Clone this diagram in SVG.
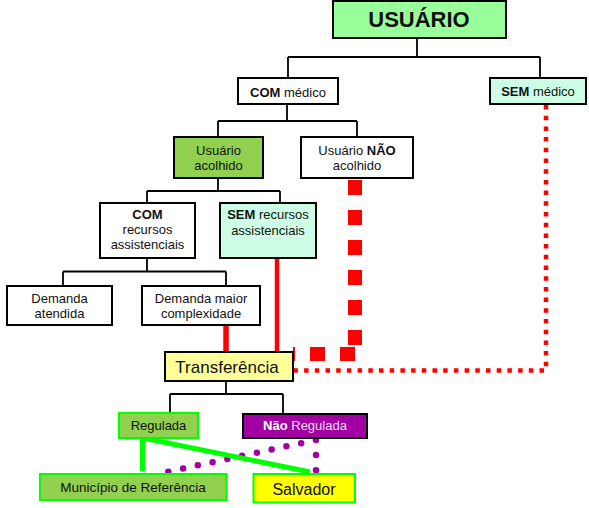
<svg xmlns="http://www.w3.org/2000/svg" width="589" height="508" viewBox="0 0 589 508">
<style>
text{font-family:"Liberation Sans",Arial,sans-serif;font-size:13px;fill:#111;text-anchor:middle}
.b{font-weight:bold}
.box{stroke:#000;stroke-width:2}
.gbox{stroke:#00FF00;stroke-width:2}
.tree{fill:none;stroke:#000;stroke-width:1.8}
.red{fill:none;stroke:#FF0000}
</style>
<rect width="589" height="508" fill="#fff"/>
<g id="connectors">
<path class="tree" d="M417,38V57M288,57H540M288,57V78M540,57V78M287,104V121M218,121H357M218,121V137M357,121V137M218,178V191M147,191H280M147,191V203M280,191V203M147,258V271.5M63,271.5H226M63,271.5V286M226,271.5V286M226,381V394M170,394H283M170,394V413M283,394V413"/>
<path class="red" stroke-width="5.5" d="M226,325V352"/>
<path class="red" stroke-width="4.5" d="M277,258V352"/>
<path class="red" stroke-width="14" stroke-dasharray="15 15" d="M355,180V345"/>
<path class="red" stroke-width="14" stroke-dasharray="15 15" d="M355,354H293"/>
<path class="red" stroke-width="4.5" stroke-dasharray="4.5 6.2" d="M546,105V370.5H293"/>
<path fill="none" stroke="#A300A3" stroke-width="6.5" stroke-linecap="round" stroke-dasharray="0 15.1" d="M168.3,471.7L316,440L316,470.7"/>
<path fill="none" stroke="#00FF00" stroke-width="5" d="M142.5,438V471M143,438L310,472"/>
</g>
<g id="usuario">
<rect class="box" x="333" y="1" width="173" height="37" fill="#99FF99"/>
<text x="419" y="27" class="b" style="font-size:22px">USUÁRIO</text>
</g>
<g id="com-medico">
<rect class="box" x="238" y="78" width="100" height="26" fill="#fff"/>
<text x="288" y="96.5"><tspan class="b">COM</tspan> médico</text>
</g>
<g id="sem-medico">
<rect class="box" x="490" y="78" width="96" height="26" fill="#CCFFE6"/>
<text x="538" y="96"><tspan class="b">SEM</tspan> médico</text>
</g>
<g id="usuario-acolhido">
<rect class="box" x="174" y="137" width="89" height="41" fill="#92D050"/>
<text x="218.5" y="154.5">Usuário</text>
<text x="218.5" y="170">acolhido</text>
</g>
<g id="usuario-nao-acolhido">
<rect class="box" x="301" y="137" width="112" height="41" fill="#fff"/>
<text x="357" y="154.5">Usuário <tspan class="b">NÃO</tspan></text>
<text x="357" y="170">acolhido</text>
</g>
<g id="com-recursos">
<rect class="box" x="100" y="203" width="95" height="55" fill="#fff"/>
<text x="147.5" y="219" class="b">COM</text>
<text x="147.5" y="234">recursos</text>
<text x="147.5" y="248.5">assistenciais</text>
</g>
<g id="sem-recursos">
<rect class="box" x="220" y="203" width="96" height="55" fill="#CCFFE6"/>
<text x="268" y="219"><tspan class="b">SEM</tspan> recursos</text>
<text x="268" y="235">assistenciais</text>
</g>
<g id="demanda-atendida">
<rect class="box" x="7" y="286" width="105" height="39" fill="#fff"/>
<text x="59.5" y="303">Demanda</text>
<text x="59.5" y="317.5">atendida</text>
</g>
<g id="demanda-maior">
<rect class="box" x="142" y="286" width="118" height="39" fill="#fff"/>
<text x="201" y="303">Demanda maior</text>
<text x="201" y="317.5">complexidade</text>
</g>
<g id="transferencia">
<rect class="box" x="165" y="352" width="128" height="29" fill="#FFFF99" stroke-width="1.8"/>
<text x="227" y="373" style="font-size:17px">Transferência</text>
</g>
<g id="regulada">
<rect class="gbox" x="119" y="413" width="79" height="25" fill="#92D050"/>
<text x="158.5" y="430">Regulada</text>
</g>
<g id="nao-regulada">
<rect class="box" x="243" y="414" width="124" height="24" fill="#A300A3"/>
<text x="305" y="430" style="fill:#F3DDF3"><tspan class="b" style="fill:#fff">Não</tspan> Regulada</text>
</g>
<g id="municipio">
<rect class="gbox" x="40" y="474" width="186.5" height="26" fill="#92D050"/>
<text x="133" y="492" style="font-size:13.5px">Município de Referência</text>
</g>
<g id="salvador">
<rect class="gbox" x="253.5" y="474" width="101.5" height="28.5" fill="#FFFF00"/>
<text x="304" y="495" style="font-size:16px">Salvador</text>
</g>
</svg>
